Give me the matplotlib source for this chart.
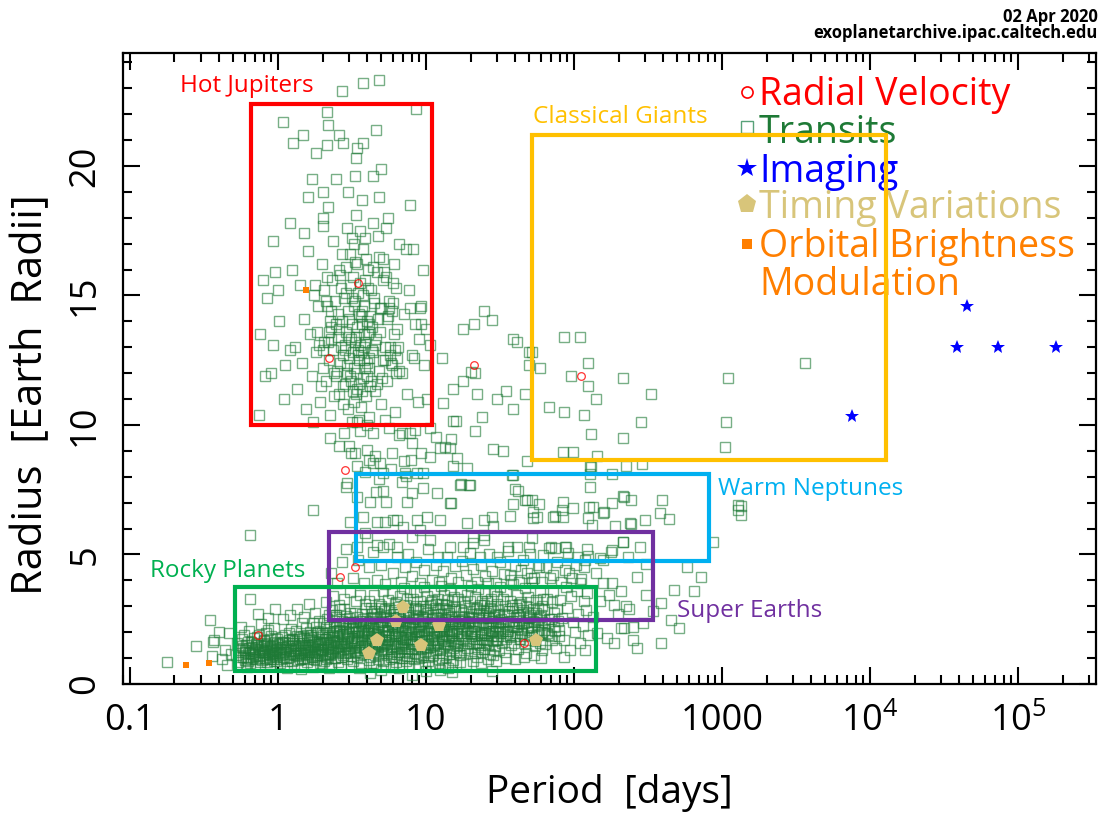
import matplotlib
matplotlib.use("Agg")
import matplotlib.pyplot as plt
from matplotlib.patches import Rectangle
import numpy as np

# ---------------- data (period [days], radius [Earth radii]) ----------------
transit_hot_jupiters = [
    (2.70, 22.9), (3.75, 23.2), (4.81, 23.3), (8.55, 22.2), (2.14, 22.1), (1.08, 21.7), (2.18, 21.6),
    (4.59, 21.4), (1.26, 20.9), (1.48, 21.2), (2.58, 21.2), (2.14, 20.8), (2.75, 20.9), (3.75, 20.9),
    (3.43, 20.7), (1.81, 20.5), (3.38, 20.3), (4.97, 19.9), (4.39, 19.6), (3.30, 19.6), (1.70, 19.5),
    (2.46, 19.5), (2.02, 19.0), (1.59, 18.8), (2.96, 19.0), (4.80, 18.8), (3.68, 18.7), (7.80, 18.5),
    (2.18, 18.4), (1.21, 17.8), (2.02, 17.7), (0.925, 17.1), (8.15, 16.8), (5.40, 17.6), (0.792, 15.6),
    (0.95, 15.9), (1.00, 15.2), (0.84, 14.9), (6.3, 15.3), (7.8, 14.5), (9.1, 14.5), (9.2, 13.9),
    (10.0, 13.7), (0.76, 13.5), (9.0, 13.3), (8.3, 12.6),
    (2.52, 12.1), (2.55, 14.3), (2.60, 11.2), (2.63, 15.8), (2.66, 13.0), (2.70, 16.6), (2.73, 10.8),
    (2.76, 12.7), (2.80, 14.9), (2.83, 11.6), (2.87, 13.6), (2.90, 16.1), (2.94, 12.3), (2.98, 10.6),
    (3.02, 14.1), (3.05, 15.4), (3.09, 11.9), (3.12, 13.3), (3.16, 17.2), (3.20, 12.8), (3.24, 10.9),
    (3.28, 14.6), (3.32, 16.3), (3.36, 12.0), (3.40, 13.8), (3.44, 11.4), (3.48, 15.1), (3.52, 12.5),
    (3.56, 17.5), (3.60, 13.1), (3.65, 10.7), (3.69, 14.4), (3.73, 16.8), (3.77, 11.8), (3.82, 13.5),
    (3.86, 12.2), (3.90, 15.6), (3.95, 11.1), (4.00, 14.0), (4.05, 16.0), (4.10, 12.6), (4.15, 13.9),
    (4.20, 11.5), (4.26, 15.2), (4.32, 12.9), (4.38, 17.8), (4.44, 14.7), (4.50, 11.3), (2.58, 13.7),
    (2.85, 12.9), (3.00, 13.4), (3.14, 14.9), (3.30, 13.2), (3.46, 12.9), (3.62, 14.2), (3.80, 13.0),
    (3.98, 12.4), (4.10, 13.6), (3.35, 18.1), (2.95, 17.6),
    (1.30, 13.0), (1.35, 11.4), (1.40, 15.4), (1.45, 12.4), (1.50, 14.1), (1.55, 10.6), (1.60, 16.7),
    (1.65, 13.5), (1.70, 11.9), (1.75, 15.0), (1.80, 12.8), (1.86, 14.6), (1.92, 10.9), (1.98, 16.2),
    (2.04, 13.2), (2.10, 11.7), (2.16, 15.7), (2.22, 12.5), (2.28, 14.4), (2.34, 17.1), (2.40, 11.1),
    (2.46, 13.9), (4.60, 13.3), (4.70, 15.9), (4.80, 12.1), (4.90, 14.5), (5.00, 10.8), (5.15, 16.4),
    (5.30, 13.0), (5.45, 11.7), (5.60, 14.8), (5.80, 12.4), (6.00, 15.5), (6.20, 10.5), (6.40, 13.7),
    (6.60, 17.0), (6.85, 12.0), (7.10, 14.3), (7.40, 11.2), (7.70, 15.2), (8.00, 12.7), (8.40, 13.9),
    (8.80, 10.9), (9.20, 14.6), (9.70, 12.3), (10.2, 11.0), (10.6, 13.1), (1.25, 16.0), (1.12, 12.3),
    (1.02, 14.0), (0.92, 13.1), (0.82, 11.9), (0.75, 10.4), (1.50, 17.4), (2.00, 18.0), (5.50, 18.0),
    (4.75, 17.3), (6.10, 16.2), (7.30, 16.8), (9.50, 16.0), (0.90, 12.0), (1.10, 11.0), (1.20, 12.9),
    (3.15, 10.1), (4.10, 10.3), (5.30, 10.2), (2.25, 10.4), (3.55, 10.2),
]

transit_hot_jupiter_core = [
    (2.35, 12.9), (2.42, 14.8), (2.48, 11.9), (2.53, 13.4), (2.60, 16.0), (2.64, 12.4), (2.71, 14.0),
    (2.77, 11.5), (2.82, 13.1), (2.89, 15.1), (2.93, 12.0), (2.99, 14.4), (3.04, 12.6), (3.08, 16.6),
    (3.13, 11.7), (3.18, 13.9), (3.22, 15.7), (3.26, 12.2), (3.31, 14.8), (3.35, 11.2), (3.39, 13.4),
    (3.43, 16.2), (3.47, 12.7), (3.51, 14.3), (3.55, 11.6), (3.59, 15.5), (3.63, 12.8), (3.67, 13.9),
    (3.71, 11.3), (3.75, 15.0), (3.79, 12.5), (3.84, 14.6), (3.88, 13.2), (3.93, 16.4), (3.97, 11.9),
    (4.03, 13.5), (4.08, 15.3), (4.13, 12.2), (4.18, 14.2), (4.24, 11.7), (4.30, 13.8), (4.36, 16.1),
    (4.42, 12.8), (4.48, 14.9), (4.55, 13.1), (4.65, 11.6), (4.72, 14.1), (2.68, 15.3), (3.28, 17.0),
    (3.86, 17.2),
    (1.85, 13.6), (2.00, 12.2), (2.15, 14.6), (2.30, 13.3), (5.10, 15.6), (5.30, 12.5), (5.50, 14.2),
    (5.70, 13.0), (1.95, 11.5), (6.00, 14.7), (6.20, 12.9), (2.05, 15.2), (4.90, 13.6), (5.05, 11.8),
    (2.25, 14.0), (6.40, 12.6), (5.20, 15.9), (1.90, 13.1), (5.60, 14.5), (6.60, 12.1), (2.20, 13.6),
    (4.85, 16.5), (5.90, 12.3), (2.12, 14.8), (6.10, 13.5), (2.38, 12.0), (5.45, 14.1), (1.78, 15.4),
    (5.75, 12.7), (2.28, 13.8), (6.30, 12.0), (4.95, 14.5), (2.18, 13.2), (5.35, 15.7), (2.02, 12.9),
    (5.85, 14.4), (6.50, 13.0), (2.32, 15.6), (5.15, 12.5), (3.20, 11.3),
]

transit_intermediate = [
    (12.9, 12.6), (17.8, 13.7), (21.2, 13.9), (24.5, 14.4), (27.8, 14.05), (38.5, 13.3), (41.0, 13.2),
    (52.0, 12.8), (50.0, 12.3), (59.0, 12.2), (85.0, 13.4), (110.0, 13.4), (125.0, 12.4), (95.0, 11.9),
    (124.0, 11.5), (213.0, 11.8), (330.0, 11.2), (140.0, 11.0), (68.0, 10.7), (85.0, 10.5), (116.0, 10.4),
    (283.0, 10.1), (130.0, 9.65), (213.0, 9.5), (84.0, 8.96), (98.0, 8.96), (143.0, 8.8), (223.0, 8.42),
    (287.0, 8.5), (128.0, 8.42), (128.0, 8.1), (182.0, 8.1), (1100.0, 11.8), (3640.0, 12.4),
    (1060.0, 10.1), (1050.0, 9.15), (49.6, 12.8),
    (21.3, 12.0), (17.8, 11.7), (15.3, 11.4), (22.0, 11.2), (30.0, 11.0), (34.8, 11.3), (47.0, 11.2),
    (39.0, 10.6), (13.0, 10.85), (15.3, 10.15), (23.9, 10.3), (21.3, 9.77), (28.2, 9.07), (33.0, 9.0),
    (16.3, 8.73), (12.4, 9.1), (14.5, 9.1), (11.6, 9.55), (10.6, 9.9), (8.0, 9.3), (5.9, 8.92),
    (7.9, 8.65), (10.6, 8.77), (18.9, 8.34), (15.3, 8.42), (48.0, 8.6), (7.2, 8.15), (9.5, 8.15),
    (5.1, 8.15), (4.4, 8.53), (4.9, 8.53), (4.0, 9.03), (4.1, 8.65), (3.0, 9.2), (3.1, 8.9),
    (2.25, 9.5), (2.8, 9.7), (3.6, 9.75), (4.4, 9.7), (6.9, 9.7), (7.8, 9.7), (3.4, 10.1), (4.0, 10.0),
    (1.72, 10.1), (2.9, 7.6), (2.95, 7.75), (3.4, 8.4), (1.72, 6.7), (0.65, 5.75), (20.1, 12.05),
    (15.9, 10.15), (14.8, 9.46), (13.5, 9.15), (38.0, 8.07), (2.6, 9.2), (3.3, 8.9), (4.5, 8.8),
    (5.6, 9.9), (6.6, 9.6), (7.1, 8.6), (8.4, 9.8), (9.3, 8.9), (3.9, 8.2), (4.8, 7.9), (5.8, 8.3),
    (6.9, 7.8), (3.4, 7.2), (4.6, 7.4),
    (5.1, 7.45), (4.2, 7.03), (5.4, 7.03), (7.4, 7.03), (8.0, 7.37), (9.5, 7.57), (11.8, 7.37),
    (14.5, 6.99), (17.2, 7.72), (19.5, 7.68), (7.3, 8.03), (8.7, 8.15), (40.0, 7.53), (42.0, 7.45),
    (46.5, 7.1), (52.0, 7.1), (58.0, 6.95), (38.5, 6.95), (38.5, 8.07), (128.0, 7.6), (84.0, 7.03),
    (182.0, 6.99), (218.0, 7.22), (393.0, 7.1), (83.0, 6.72), (98.0, 6.8), (127.0, 6.83), (160.0, 6.64),
    (84.0, 6.45), (53.0, 6.4), (72.0, 6.45), (133.0, 6.14), (240.0, 6.2), (300.0, 6.33), (437.0, 6.37),
    (37.0, 6.5), (28.0, 6.45), (24.5, 6.33), (18.9, 6.2), (12.4, 6.33), (10.2, 6.45), (8.7, 6.33),
    (6.4, 6.33), (6.0, 6.33), (5.3, 6.25), (4.7, 6.25), (3.75, 6.45), (3.9, 5.83), (3.05, 6.25),
    (9.1, 5.95), (7.0, 6.06), (10.6, 5.56), (8.0, 5.68), (6.4, 5.29), (5.1, 5.29), (4.7, 5.37),
    (4.0, 5.68), (3.4, 5.29), (14.5, 5.29), (17.8, 5.29), (20.8, 5.45), (24.5, 5.56), (36.0, 5.29),
    (41.0, 5.29), (50.0, 5.29), (52.0, 5.64), (70.0, 5.29), (87.0, 5.29), (122.0, 5.21), (180.0, 5.17),
    (213.0, 5.48), (278.0, 5.29), (12.0, 4.9), (23.0, 4.9), (30.0, 4.9), (62.0, 4.98), (105.0, 4.9),
    (150.0, 4.86), (230.0, 4.9), (380.0, 6.6), (1280.0, 6.9), (1280.0, 6.7), (870.0, 5.48),
    (158.0, 6.6), (135.0, 6.83), (17.0, 7.68), (19.8, 7.68), (14.8, 6.99), (53.0, 6.64), (75.0, 6.49),
    (28.5, 6.1), (24.5, 5.75), (20.8, 5.68), (190.0, 6.1), (56.0, 6.45), (48.5, 7.1), (75.0, 5.25),
    (130.0, 8.38), (244.0, 7.1), (215.0, 7.26), (244.0, 6.18), (125.0, 6.41), (215.0, 5.48),
    (178.0, 5.1), (89.0, 5.29), (157.0, 4.79), (119.0, 4.79), (306.0, 4.63), (721.0, 4.13),
    (580.0, 4.52), (647.0, 3.6), (474.0, 3.63), (1350.0, 6.87), (1350.0, 6.52), (0.65, 3.28),
]

transit_small = [
    (0.178, 0.85), (0.279, 1.47), (0.365, 1.62), (0.36, 1.08), (0.45, 0.73), (0.44, 1.31), (0.35, 2.47),
    (0.37, 1.70), (0.40, 2.0), (0.47, 1.95), (0.48, 1.15), (0.42, 0.95),
    (0.52, 1.12), (0.54, 0.86), (0.57, 1.46), (0.58, 1.03), (0.60, 1.32), (0.61, 0.79), (0.63, 1.61),
    (0.65, 1.19), (0.66, 0.95), (0.67, 1.43), (0.69, 1.27), (0.70, 0.71), (0.71, 1.55), (0.74, 1.08),
    (0.75, 1.88), (0.76, 1.36), (0.78, 0.92), (0.79, 1.22), (0.81, 1.66), (0.82, 1.01), (0.84, 1.40),
    (0.85, 0.83), (0.87, 1.15), (0.88, 1.72), (0.90, 1.30), (0.92, 0.98), (0.93, 1.50), (0.95, 1.20),
    (0.97, 0.88), (0.99, 1.38), (0.53, 1.60), (0.59, 1.91), (0.64, 2.06), (0.72, 1.82), (0.77, 2.33),
    (0.83, 1.95), (0.89, 0.76), (0.94, 2.16), (0.98, 1.58), (0.62, 0.67), (0.73, 2.70), (0.86, 2.55),
    (0.56, 2.20), (0.95, 2.90), (0.55, 1.30), (0.68, 1.05), (0.80, 1.48), (0.91, 1.12), (0.63, 0.90),
    (1.02, 1.25), (1.04, 0.82), (1.06, 1.58), (1.09, 1.04), (1.11, 1.90), (1.13, 1.37), (1.16, 0.90),
    (1.18, 1.68), (1.21, 1.15), (1.23, 2.12), (1.26, 1.45), (1.28, 0.76), (1.31, 1.28), (1.34, 1.85),
    (1.37, 1.07), (1.39, 1.60), (1.42, 0.95), (1.45, 2.35), (1.48, 1.33), (1.51, 1.76), (1.54, 1.12),
    (1.57, 0.86), (1.60, 1.52), (1.64, 2.02), (1.67, 1.22), (1.70, 1.70), (1.74, 0.98), (1.77, 1.40),
    (1.81, 2.20), (1.85, 1.10), (1.88, 1.62), (1.92, 0.80), (1.96, 1.35), (1.99, 1.95), (1.08, 2.50),
    (1.20, 2.65), (1.35, 2.90), (1.50, 2.58), (1.62, 3.10), (1.78, 2.75), (1.90, 2.45), (1.15, 0.62),
    (1.44, 0.58), (1.72, 0.66), (1.97, 0.70), (1.05, 1.42), (1.25, 1.72), (1.41, 1.25), (1.58, 1.90),
    (1.83, 1.55),
    (2.02, 1.30), (2.05, 0.90), (2.08, 1.72), (2.11, 2.20), (2.14, 1.05), (2.18, 1.48), (2.21, 2.65),
    (2.25, 1.20), (2.28, 0.78), (2.32, 1.90), (2.36, 1.36), (2.40, 2.42), (2.44, 1.02), (2.48, 1.63),
    (2.52, 2.05), (2.56, 0.85), (2.60, 1.28), (2.64, 2.88), (2.69, 1.55), (2.73, 1.92), (2.77, 1.12),
    (2.82, 2.30), (2.86, 1.45), (2.91, 0.95), (2.95, 1.80), (3.00, 2.55), (3.05, 1.18), (3.10, 1.66),
    (3.15, 2.12), (3.20, 0.88), (3.25, 1.40), (3.30, 2.75), (3.36, 1.58), (3.41, 1.03), (3.47, 2.00),
    (3.52, 1.30), (3.58, 2.45), (3.64, 0.80), (3.70, 1.75), (3.76, 2.20), (3.82, 1.15), (3.88, 1.62),
    (3.94, 2.95), (2.10, 3.15), (2.34, 3.40), (2.58, 3.05), (2.80, 3.30), (3.08, 3.55), (3.35, 3.20),
    (3.60, 3.45), (3.85, 3.10), (2.22, 0.60), (2.66, 0.65), (3.12, 0.70), (3.55, 0.62), (2.47, 2.68),
    (2.90, 2.62), (3.22, 2.38), (3.68, 2.70), (3.97, 1.98), (2.16, 1.62), (2.54, 1.45), (2.99, 1.22),
    (3.44, 1.85), (3.79, 1.38),
    (4.03, 1.22), (4.08, 2.10), (4.12, 0.92), (4.18, 1.65), (4.24, 2.55), (4.30, 1.40), (4.36, 0.82),
    (4.42, 1.95), (4.49, 2.82), (4.55, 1.10), (4.62, 1.58), (4.69, 2.32), (4.76, 0.98), (4.83, 1.78),
    (4.90, 2.60), (4.97, 1.30), (5.05, 2.05), (5.12, 0.88), (5.20, 1.50), (5.28, 2.90), (5.36, 1.18),
    (5.44, 2.22), (5.52, 1.68), (5.60, 0.95), (5.69, 2.45), (5.77, 1.36), (5.86, 1.92), (5.95, 2.70),
    (6.04, 1.05), (6.13, 1.60), (6.22, 2.15), (6.32, 0.85), (6.41, 1.45), (6.51, 2.98), (6.61, 1.25),
    (6.71, 2.38), (6.81, 1.82), (6.91, 1.00), (7.02, 2.58), (7.12, 1.40), (7.23, 2.05), (7.34, 0.90),
    (7.45, 1.70), (7.57, 2.78), (7.68, 1.20), (7.80, 2.30), (7.92, 1.55), (4.15, 3.20), (4.45, 3.45),
    (4.80, 3.10), (5.15, 3.60), (5.50, 3.25), (5.90, 3.50), (6.30, 3.15), (6.70, 3.40), (7.10, 3.70),
    (7.50, 3.30), (7.85, 3.55), (4.60, 0.70), (5.30, 0.72), (6.00, 0.66), (6.90, 0.75), (7.70, 0.68),
    (4.35, 2.70), (5.00, 3.00), (5.65, 2.95), (6.45, 2.60), (7.30, 3.05), (4.95, 0.55), (6.60, 0.60),
    (4.27, 1.82), (4.72, 1.42), (5.40, 1.85), (5.82, 1.15), (6.27, 1.90), (6.95, 1.62), (7.40, 1.08),
    (4.20, 0.42),
    (8.05, 1.35), (8.15, 2.20), (8.30, 0.95), (8.42, 1.75), (8.55, 2.65), (8.70, 1.15), (8.85, 2.00),
    (9.00, 1.48), (9.15, 2.90), (9.30, 1.05), (9.46, 1.90), (9.62, 2.45), (9.78, 1.25), (9.95, 1.68),
    (10.1, 2.75), (10.3, 0.90), (10.5, 2.15), (10.7, 1.42), (10.9, 2.50), (11.1, 1.10), (11.3, 1.85),
    (11.5, 2.95), (11.7, 1.30), (11.9, 2.30), (12.1, 1.62), (12.3, 0.98), (12.5, 2.05), (12.7, 2.70),
    (12.9, 1.20), (13.1, 1.78), (13.4, 2.40), (13.6, 1.05), (13.8, 2.85), (14.0, 1.50), (14.3, 2.12),
    (14.5, 1.28), (14.8, 2.60), (15.0, 1.90), (15.3, 0.92), (15.6, 2.35), (15.8, 1.60), (8.20, 3.30),
    (8.60, 3.55), (9.10, 3.20), (9.70, 3.75), (10.2, 3.40), (10.8, 3.15), (11.4, 3.60), (12.0, 3.30),
    (12.6, 3.80), (13.3, 3.45), (13.9, 3.25), (14.6, 3.65), (15.4, 3.35), (8.90, 0.70), (9.90, 0.75),
    (11.0, 0.68), (12.2, 0.80), (13.5, 0.72), (15.1, 0.78), (8.50, 3.00), (9.50, 2.60), (10.6, 3.05),
    (11.8, 2.55), (12.8, 3.10), (14.2, 2.90), (15.5, 3.00), (10.0, 0.50), (12.4, 0.55), (14.1, 0.60),
    (8.00, 0.35), (9.20, 1.80), (10.4, 1.55), (11.6, 2.05), (13.0, 2.25), (14.7, 1.70),
    (16.2, 1.45), (16.6, 2.30), (17.0, 1.10), (17.4, 1.85), (17.8, 2.75), (18.2, 1.30), (18.7, 2.10),
    (19.1, 1.60), (19.6, 2.95), (20.0, 1.20), (20.5, 2.45), (21.0, 1.75), (21.5, 2.20), (22.0, 1.05),
    (22.5, 2.60), (23.1, 1.50), (23.7, 2.00), (24.2, 2.85), (24.8, 1.35), (25.4, 2.30), (26.0, 1.70),
    (26.6, 2.55), (27.2, 1.15), (27.9, 2.05), (28.5, 2.80), (29.2, 1.45), (29.9, 2.25), (30.6, 1.85),
    (31.3, 2.65), (16.4, 3.30), (17.2, 3.60), (18.0, 3.15), (19.0, 3.45), (20.2, 3.80), (21.3, 3.35),
    (22.6, 3.65), (23.9, 3.20), (25.1, 3.50), (26.4, 3.90), (27.6, 3.30), (29.0, 3.60), (30.3, 3.40),
    (31.6, 3.75), (16.9, 0.85), (18.5, 0.78), (20.8, 0.90), (23.4, 0.82), (26.2, 0.95), (29.6, 0.88),
    (17.6, 2.50), (19.4, 2.60), (21.8, 2.90), (24.5, 3.05), (27.0, 2.95), (30.0, 3.10), (18.9, 1.95),
    (22.3, 1.35), (25.7, 1.90), (28.2, 1.65), (31.0, 1.30), (15.0, 0.45), (28.0, 0.50),
    (32.5, 1.60), (33.4, 2.40), (34.4, 1.25), (35.4, 2.05), (36.4, 2.80), (37.5, 1.50), (38.6, 2.25),
    (39.7, 1.85), (40.9, 2.95), (42.1, 1.35), (43.3, 2.60), (44.6, 1.95), (45.9, 2.35), (47.2, 1.20),
    (48.6, 2.75), (50.0, 1.70), (51.5, 2.20), (53.0, 2.90), (54.5, 1.45), (56.1, 2.50), (57.8, 1.90),
    (59.5, 2.65), (61.2, 1.30), (62.5, 2.10), (33.0, 3.30), (34.9, 3.60), (36.9, 3.20), (39.0, 3.85),
    (41.3, 3.45), (43.8, 3.15), (46.4, 3.70), (49.2, 3.35), (52.1, 3.95), (55.2, 3.25), (58.5, 3.55),
    (61.8, 3.30), (35.0, 1.00), (40.0, 0.95), (46.0, 1.05), (53.5, 1.10), (60.0, 1.00), (37.0, 4.20),
    (44.0, 4.40), (51.0, 4.10), (58.0, 4.50), (38.0, 3.05), (47.7, 3.00), (56.8, 2.95), (42.7, 2.45),
    (49.8, 2.55),
    (64.0, 1.55), (67.0, 2.30), (70.0, 1.85), (73.0, 2.75), (76.0, 1.40), (79.0, 2.10), (83.0, 2.55),
    (86.0, 1.70), (90.0, 2.95), (94.0, 1.30), (98.0, 2.40), (102.0, 2.00), (106.0, 2.70), (110.0, 1.60),
    (115.0, 2.25), (120.0, 2.85), (124.0, 1.90), (66.0, 3.30), (72.0, 3.60), (80.0, 3.25), (88.0, 3.75),
    (96.0, 3.40), (105.0, 3.60), (116.0, 3.20), (122.0, 3.50), (85.0, 1.04), (119.0, 1.31), (69.0, 4.10),
    (92.0, 4.30), (112.0, 4.05),
    (157.0, 3.90), (181.0, 3.90), (172.0, 3.44), (186.0, 3.05), (208.0, 3.60), (224.0, 3.00), (306.0, 3.44),
    (267.0, 4.13), (208.0, 2.16), (252.0, 2.20), (292.0, 2.35), (186.0, 1.58), (167.0, 1.78), (218.0, 2.16),
    (252.0, 1.70), (267.0, 1.39), (387.0, 1.58), (452.0, 2.47), (512.0, 2.16), (387.0, 3.13), (135.0, 2.60),
    (142.0, 1.95), (150.0, 3.20), (198.0, 2.70), (235.0, 2.90), (340.0, 2.80),
    (2.3, 4.30), (2.5, 3.90), (2.7, 4.70), (2.9, 5.20), (3.2, 4.10), (3.5, 4.80), (3.8, 3.90), (4.1, 4.50),
    (4.4, 5.10), (4.7, 4.00), (5.0, 4.60), (5.3, 3.85), (5.6, 5.40), (6.0, 4.30), (6.4, 4.90), (6.8, 3.95),
    (7.2, 4.50), (7.6, 5.00), (8.1, 4.15), (8.6, 4.70), (9.1, 3.90), (9.7, 4.40), (10.3, 5.20), (10.9, 4.00),
    (11.6, 4.60), (12.3, 3.95), (13.0, 4.35), (13.8, 4.90), (14.7, 4.10), (15.6, 4.55), (16.5, 3.95),
    (17.5, 4.75), (18.6, 4.20), (19.7, 5.05), (20.9, 4.45), (22.2, 3.95), (23.5, 4.60), (25.0, 4.15),
    (26.5, 5.00), (28.1, 4.35), (29.8, 3.90), (31.6, 4.70), (33.5, 4.25), (35.6, 5.15), (37.8, 4.00),
    (40.1, 4.55), (42.5, 3.95), (45.1, 4.80), (47.8, 4.30), (50.7, 5.00), (53.8, 4.10), (57.1, 4.60),
    (60.6, 3.95), (64.3, 4.50), (68.2, 5.25), (72.4, 4.20), (76.8, 4.70), (81.5, 3.95), (86.5, 4.40),
    (91.8, 5.05), (97.4, 4.10), (103.0, 4.60), (110.0, 3.90), (117.0, 4.50), (125.0, 4.95), (140.0, 4.30),
]

transit_small_core = [
    (0.56, 1.05), (0.58, 1.38), (0.60, 0.92), (0.61, 1.50), (0.63, 1.20), (0.65, 0.82), (0.66, 1.62),
    (0.68, 1.15), (0.70, 1.35), (0.71, 0.95), (0.73, 1.52), (0.74, 1.25), (0.76, 0.85), (0.77, 1.45),
    (0.79, 1.10), (0.80, 1.70), (0.82, 1.28), (0.84, 0.95), (0.85, 1.55), (0.87, 1.05), (0.89, 1.42),
    (0.90, 1.85), (0.92, 1.18), (0.94, 0.90), (0.95, 1.62), (0.97, 1.30), (0.99, 1.05), (0.57, 1.72),
    (0.69, 1.78), (0.86, 2.10),
    (1.01, 1.55), (1.03, 1.12), (1.05, 0.95), (1.07, 1.80), (1.10, 1.30), (1.12, 1.62), (1.14, 1.02),
    (1.17, 1.45), (1.19, 1.95), (1.22, 1.32), (1.24, 0.88), (1.27, 1.58), (1.29, 1.12), (1.32, 2.05),
    (1.33, 1.40), (1.36, 0.92), (1.38, 1.72), (1.40, 1.20), (1.43, 1.50), (1.46, 1.00), (1.47, 1.85),
    (1.49, 1.15), (1.52, 1.42), (1.55, 2.15), (1.56, 1.30), (1.59, 0.98), (1.61, 1.75), (1.63, 1.25),
    (1.66, 1.90), (1.69, 1.05), (1.71, 1.48), (1.73, 2.35), (1.76, 1.18), (1.79, 1.65), (1.82, 0.92),
    (1.84, 1.35), (1.87, 2.00), (1.90, 1.22), (1.93, 1.55), (1.98, 1.10),
    (2.01, 1.60), (2.04, 2.35), (2.07, 1.15), (2.09, 1.95), (2.12, 0.98), (2.15, 2.50), (2.17, 1.38),
    (2.20, 1.82), (2.23, 1.10), (2.26, 2.20), (2.29, 1.52), (2.31, 2.85), (2.33, 1.25), (2.37, 1.70),
    (2.39, 2.05), (2.42, 1.00), (2.45, 2.60), (2.47, 1.42), (2.50, 1.85), (2.53, 1.18), (2.57, 2.25),
    (2.61, 1.60), (2.63, 2.00), (2.67, 1.05), (2.70, 2.45), (2.74, 1.35), (2.78, 1.75), (2.81, 2.90),
    (2.84, 1.20), (2.88, 2.15), (2.92, 1.62), (2.96, 2.40), (3.01, 1.40), (3.04, 1.95), (3.08, 2.75),
    (3.13, 1.08), (3.17, 1.78), (3.21, 2.25), (3.26, 1.55), (3.31, 2.00), (3.37, 1.25), (3.42, 2.60),
    (3.46, 1.70), (3.51, 2.15), (3.57, 1.12), (3.62, 2.05), (3.67, 1.48), (3.74, 2.50), (3.81, 1.90),
    (3.90, 2.30),
    (4.05, 1.55), (4.10, 2.40), (4.14, 1.85), (4.21, 1.05), (4.27, 2.25), (4.33, 1.70), (4.39, 2.60),
    (4.46, 1.25), (4.52, 2.05), (4.58, 1.90), (4.65, 2.75), (4.72, 1.15), (4.79, 2.20), (4.86, 1.55),
    (4.93, 2.95), (5.01, 1.72), (5.08, 2.40), (5.16, 1.20), (5.24, 2.10), (5.32, 1.62), (5.40, 2.65),
    (5.48, 1.35), (5.56, 2.00), (5.64, 1.80), (5.73, 2.55), (5.81, 1.05), (5.90, 2.25), (5.99, 1.45),
    (6.08, 2.85), (6.17, 1.85), (6.27, 2.30), (6.36, 1.15), (6.46, 2.05), (6.56, 1.60), (6.66, 2.70),
    (6.76, 1.35), (6.86, 2.20), (6.97, 1.72), (7.07, 3.00), (7.18, 1.25), (7.29, 2.45), (7.40, 1.90),
    (7.51, 2.15), (7.63, 1.00), (7.74, 2.60), (7.86, 1.75), (7.97, 2.00), (4.50, 1.45), (5.20, 2.80),
    (5.85, 1.28), (6.50, 2.45), (7.25, 1.55), (4.25, 2.95), (6.15, 3.10), (7.60, 2.85),
    (8.10, 1.65), (8.25, 2.50), (8.38, 1.20), (8.50, 2.05), (8.65, 1.50), (8.80, 2.85), (8.95, 1.85),
    (9.10, 2.30), (9.25, 1.35), (9.40, 2.60), (9.55, 1.10), (9.70, 2.10), (9.85, 1.55), (10.0, 2.90),
    (10.2, 1.95), (10.4, 2.40), (10.6, 1.20), (10.8, 2.20), (11.0, 1.75), (11.2, 2.65), (11.4, 1.45),
    (11.6, 3.10), (11.8, 2.00), (12.0, 1.55), (12.2, 2.45), (12.4, 1.30), (12.6, 2.20), (12.8, 1.85),
    (13.0, 2.95), (13.2, 1.45), (13.5, 2.50), (13.7, 1.65), (14.0, 2.30), (14.2, 1.15), (14.4, 2.75),
    (14.7, 1.95), (14.9, 2.45), (15.2, 1.40), (15.4, 2.05), (15.7, 2.80), (15.9, 1.25), (8.40, 2.95),
    (9.00, 1.00), (9.60, 3.00), (10.3, 1.05), (10.9, 3.25), (11.5, 2.35), (12.1, 2.85), (12.9, 1.00),
    (13.6, 3.05), (14.4, 1.85), (15.0, 3.20), (9.30, 2.05), (11.2, 1.50), (13.3, 2.10),
    (16.3, 1.95), (16.8, 2.60), (17.1, 1.50), (17.5, 2.20), (17.9, 1.75), (18.3, 3.00), (18.8, 1.40),
    (19.2, 2.40), (19.7, 1.95), (20.1, 2.70), (20.6, 1.55), (21.1, 2.25), (21.6, 1.85), (22.1, 2.95),
    (22.7, 1.60), (23.2, 2.35), (23.8, 1.25), (24.4, 2.55), (25.0, 1.95), (25.6, 2.75), (26.2, 1.50),
    (26.8, 2.15), (27.4, 1.85), (28.0, 2.45), (28.7, 1.30), (29.4, 2.65), (30.1, 1.70), (30.8, 2.20),
    (31.5, 1.95), (16.7, 1.20), (18.4, 2.45), (20.4, 2.05), (22.8, 2.70), (25.3, 1.60), (27.7, 3.00),
    (30.5, 2.85), (17.3, 2.85), (19.9, 3.20), (23.0, 3.05), (26.0, 3.20), (29.1, 2.00), (31.8, 2.40),
    (21.3, 1.20), (24.0, 1.75), (28.4, 1.10),
    (32.8, 2.05), (33.8, 2.70), (35.0, 1.75), (36.0, 2.40), (37.2, 1.90), (38.3, 2.95), (39.5, 1.60),
    (40.6, 2.20), (41.8, 2.65), (43.0, 1.75), (44.2, 2.30), (45.5, 2.85), (46.8, 1.55), (48.2, 2.15),
    (49.6, 2.60), (51.1, 1.90), (52.6, 2.45), (54.2, 1.65), (55.8, 2.75), (57.5, 2.10), (59.2, 1.60),
    (61.0, 2.40), (63.0, 2.85), (65.5, 1.95), (68.0, 2.50), (70.5, 1.70), (73.5, 2.20), (76.5, 2.90),
    (79.5, 1.85), (34.0, 3.00), (42.5, 3.10), (50.5, 3.15), (60.5, 3.00), (71.0, 3.15), (78.0, 2.45),
]

transit_small_densest = [
    (0.60, 1.22), (0.62, 1.02), (0.64, 1.40), (0.67, 1.30), (0.70, 1.12), (0.72, 1.60), (0.75, 1.00),
    (0.78, 1.32), (0.81, 1.18), (0.83, 1.52), (0.86, 1.25), (0.88, 0.98), (0.91, 1.45), (0.93, 1.28),
    (0.96, 1.08), (0.98, 1.72),
    (1.03, 1.35), (1.06, 1.15), (1.09, 1.62), (1.12, 1.22), (1.15, 1.48), (1.18, 1.05), (1.21, 1.38),
    (1.24, 1.70), (1.27, 1.20), (1.30, 1.52), (1.33, 1.10), (1.37, 1.32), (1.40, 1.82), (1.44, 1.18),
    (1.47, 1.58), (1.50, 1.02), (1.53, 1.28), (1.57, 1.68), (1.60, 1.15), (1.64, 1.42), (1.68, 1.82),
    (1.71, 1.08), (1.75, 1.55), (1.79, 1.28), (1.83, 1.95), (1.87, 1.45), (1.91, 1.12), (1.95, 1.72),
    (1.99, 1.32),
    (2.03, 1.88), (2.08, 1.42), (2.12, 1.72), (2.17, 1.15), (2.21, 2.02), (2.26, 1.55), (2.30, 1.28),
    (2.35, 1.95), (2.40, 1.62), (2.45, 2.20), (2.50, 1.30), (2.55, 1.78), (2.60, 2.10), (2.65, 1.45),
    (2.70, 1.90), (2.76, 2.30), (2.81, 1.60), (2.87, 2.05), (2.93, 1.32), (2.99, 1.85), (3.05, 2.40),
    (3.11, 1.52), (3.17, 2.15), (3.24, 1.70), (3.30, 1.25), (3.37, 2.25), (3.44, 1.62), (3.50, 2.05),
    (3.58, 1.42), (3.65, 2.35), (3.72, 1.85), (3.80, 2.10), (3.87, 1.30), (3.95, 2.45),
    (4.03, 1.95), (4.12, 1.48), (4.20, 2.35), (4.30, 1.75), (4.38, 2.15), (4.47, 1.38), (4.56, 2.50),
    (4.65, 1.92), (4.75, 2.20), (4.84, 1.62), (4.94, 2.40), (5.04, 1.45), (5.14, 2.25), (5.25, 1.90),
    (5.35, 2.60), (5.46, 1.55), (5.57, 2.10), (5.68, 2.45), (5.80, 1.70), (5.92, 2.30), (6.04, 1.98),
    (6.16, 2.55), (6.28, 1.40), (6.41, 2.20), (6.54, 1.85), (6.67, 2.50), (6.80, 1.52), (6.94, 2.10),
    (7.08, 2.35), (7.22, 1.80), (7.37, 2.60), (7.52, 1.35), (7.67, 2.20), (7.83, 1.95),
    (8.00, 2.40), (8.20, 1.55), (8.40, 2.15), (8.60, 1.85), (8.80, 2.50), (9.00, 2.05), (9.20, 1.62),
    (9.45, 2.30), (9.70, 1.85), (9.90, 2.55), (10.15, 1.40), (10.4, 2.05), (10.6, 2.35), (10.9, 1.70),
    (11.1, 2.20), (11.4, 1.95), (11.7, 2.60), (11.9, 1.60), (12.2, 2.10), (12.5, 2.40), (12.8, 1.75),
    (13.1, 2.25), (13.4, 1.55), (13.7, 2.05), (14.0, 2.60), (14.3, 1.80), (14.7, 2.30), (15.0, 2.05),
    (15.4, 1.65), (15.7, 2.45),
    (16.1, 2.15), (16.5, 1.75), (16.9, 2.45), (17.3, 1.95), (17.8, 2.25), (18.2, 2.60), (18.7, 1.65),
    (19.1, 2.15), (19.6, 2.40), (20.1, 1.85), (20.6, 2.55), (21.2, 2.05), (21.7, 1.60), (22.3, 2.30),
    (22.9, 2.75), (23.5, 1.90), (24.1, 2.40), (24.7, 1.70), (25.4, 2.20), (26.1, 2.60), (26.8, 1.95),
    (27.5, 2.35), (28.2, 2.05), (29.0, 2.60), (29.8, 1.75), (30.6, 2.40), (31.4, 2.15),
    (32.3, 2.50), (33.2, 1.85), (34.1, 2.30), (35.1, 2.65), (36.1, 2.05), (37.1, 1.80), (38.1, 2.45),
    (39.2, 2.20), (40.3, 2.60), (41.4, 1.95), (42.6, 2.35), (43.8, 2.10), (45.0, 2.70), (46.3, 1.85),
    (47.6, 2.40), (49.0, 2.20), (50.4, 2.65), (52.0, 2.00), (53.5, 2.40), (55.0, 1.85), (57.0, 2.30),
    (59.0, 2.60), (61.0, 2.00), (64.0, 2.35), (67.0, 1.90), (70.0, 2.50), (74.0, 2.05),
]

radial_velocity = [(0.73, 1.89), (2.62, 4.13), (3.30, 4.52), (45.9, 1.58), (2.21, 12.6),
                   (21.1, 12.3), (111.0, 11.9), (2.84, 8.26), (3.47, 15.5)]
imaging = [(7550.0, 10.35), (45200.0, 14.6), (38700.0, 13.0), (73300.0, 13.0), (180700.0, 13.0)]
timing_variations = [(7.0, 2.97), (6.27, 2.43), (12.2, 2.28), (4.67, 1.70), (9.25, 1.51),
                     (4.12, 1.20), (55.3, 1.70)]
orbital_brightness = [(0.239, 0.73), (0.342, 0.81), (1.55, 15.2)]

region_names = ["Hot Jupiters", "Classical Giants", "Warm Neptunes", "Super Earths", "Rocky Planets"]
region_pmin = [0.658, 52.0, 3.37, 2.21, 0.51]
region_pmax = [11.0, 12800.0, 817.0, 342.0, 141.0]
region_rmin = [10.0, 8.65, 4.75, 2.47, 0.50]
region_rmax = [22.4, 21.2, 8.11, 5.87, 3.75]

x_tick_values = [0.1, 1, 10, 100, 1000, 1e4, 1e5]
x_tick_labels = ["0.1", "1", "10", "100", "1000", r"10$^{4}$", r"10$^{5}$"]
y_tick_values = [0, 5, 10, 15, 20]

legend_labels = ["Radial Velocity", "Transits", "Imaging", "Timing Variations",
                 "Orbital Brightness\nModulation"]

# ---------------- styling ----------------
FONT = ["Open Sans", "DejaVu Sans"]
plt.rcParams["font.family"] = FONT
plt.rcParams["mathtext.fontset"] = "custom"
plt.rcParams["mathtext.rm"] = "Open Sans"

C_RV = "#FF0000"
C_TR = "#1E7A36"
C_IM = "#0000FF"
C_TV = "#D8C57A"
C_OB = "#FF7F00"
region_colors = ["#FF0000", "#FFC000", "#00B0F0", "#7030A0", "#00B050"]

fig = plt.figure(figsize=(11.02, 8.17), dpi=100)
ax = fig.add_axes([0.1113, 0.1628, 0.8833, 0.7720])
ax.set_xscale("log")
ax.set_xlim(0.0893, 3.365e5)
ax.set_ylim(0, 24.35)


def unzip(pts):
    a = np.array(pts, dtype=float)
    return a[:, 0], a[:, 1]


# transits
for grp in (transit_hot_jupiters, transit_hot_jupiter_core, transit_intermediate,
            transit_small, transit_small_core, transit_small_densest):
    p, r = unzip(grp)
    ax.plot(p, r, linestyle="none", marker="s", markersize=6.8, markerfacecolor="none",
            markeredgecolor=C_TR, markeredgewidth=1.0, alpha=0.6, zorder=2)

p, r = unzip(radial_velocity)
ax.plot(p, r, linestyle="none", marker="o", markersize=5.5, markerfacecolor="none",
        markeredgecolor=C_RV, markeredgewidth=0.9, alpha=0.8, zorder=3)
p, r = unzip(imaging)
ax.plot(p, r, linestyle="none", marker="*", markersize=10, color=C_IM, markeredgewidth=0, zorder=3)
p, r = unzip(timing_variations)
ax.plot(p, r, linestyle="none", marker="p", markersize=10, color=C_TV, markeredgewidth=0, zorder=3)
p, r = unzip(orbital_brightness)
ax.plot(p, r, linestyle="none", marker="s", markersize=5, color=C_OB, markeredgewidth=0, zorder=3)

# region boxes
for name, p0, p1, r0, r1, col in zip(region_names, region_pmin, region_pmax, region_rmin,
                                      region_rmax, region_colors):
    ax.add_patch(Rectangle((p0, r0), p1 - p0, r1 - r0, fill=False, edgecolor=col,
                           linewidth=3.0, zorder=6))

label_pos = {
    "Hot Jupiters": (0.218, 22.86),
    "Classical Giants": (52.8, 21.66),
    "Warm Neptunes": (939.0, 7.30),
    "Super Earths": (497.0, 2.59),
    "Rocky Planets": (0.136, 4.13),
}
for name, col in zip(region_names, region_colors):
    x, y = label_pos[name]
    ax.text(x, y, name, color=col, fontsize=17.5, ha="left", va="baseline", zorder=7)

# manual legend
leg_colors = [C_RV, C_TR, C_IM, C_TV, C_OB]
leg_marker_y = [0.9386, 0.8831, 0.8181, 0.7611, 0.6976]
leg_text_y = [0.918, 0.8578, 0.7959, 0.7388, 0.677]
mk_x = 0.6414
tx_x = 0.6537
ax.plot(mk_x, leg_marker_y[0], transform=ax.transAxes, marker="o", markersize=8,
        markerfacecolor="none", markeredgecolor=C_RV, markeredgewidth=1.2, zorder=4, clip_on=False)
ax.plot(mk_x, leg_marker_y[1], transform=ax.transAxes, marker="s", markersize=8.5,
        markerfacecolor="none", markeredgecolor="#2E8B57", markeredgewidth=1.0, alpha=0.8, zorder=4,
        clip_on=False)
ax.plot(mk_x, leg_marker_y[2], transform=ax.transAxes, marker="*", markersize=15, color=C_IM,
        markeredgewidth=0, zorder=4, clip_on=False)
ax.plot(mk_x, leg_marker_y[3], transform=ax.transAxes, marker="p", markersize=14, color=C_TV,
        markeredgewidth=0, zorder=4, clip_on=False)
ax.plot(mk_x, leg_marker_y[4], transform=ax.transAxes, marker="s", markersize=7, color=C_OB,
        markeredgewidth=0, zorder=4, clip_on=False)
for lab, col, y in zip(legend_labels, leg_colors, leg_text_y):
    lines = lab.split("\n")
    for k, line in enumerate(lines):
        ax.text(tx_x, y - k * 0.0602, line, transform=ax.transAxes, color=col, fontsize=27,
                ha="left", va="baseline", zorder=4)

# axes / ticks
ax.set_xticks(x_tick_values)
ax.set_xticklabels(x_tick_labels)
ax.xaxis.set_minor_locator(matplotlib.ticker.LogLocator(base=10, subs=np.arange(2, 10), numticks=20))
ax.xaxis.set_minor_formatter(matplotlib.ticker.NullFormatter())
ax.set_yticks(y_tick_values)
ax.set_yticklabels([str(v) for v in y_tick_values], rotation=90, va="center")
ax.yaxis.set_minor_locator(matplotlib.ticker.MultipleLocator(1))
ax.tick_params(which="both", direction="in", top=True, right=True, width=1.5, color="black")
ax.tick_params(which="major", length=12.5, labelsize=26, pad=14)
ax.tick_params(which="minor", length=6.5)
for s in ax.spines.values():
    s.set_linewidth(1.6)

ax.set_xlabel("Period  [days]", fontsize=28, labelpad=25)
ax.set_ylabel("Radius  [Earth  Radii]", fontsize=30)
ax.yaxis.set_label_coords(-0.072, 0.458)

fig.text(0.9964, 1 - 22 / 817, "02 Apr 2020", ha="right", va="baseline", fontsize=12,
         fontweight="bold", color="black")
fig.text(0.9964, 1 - 38 / 817, "exoplanetarchive.ipac.caltech.edu", ha="right", va="baseline",
         fontsize=12, fontweight="bold", color="black")

fig.savefig("out.png", dpi=100)
